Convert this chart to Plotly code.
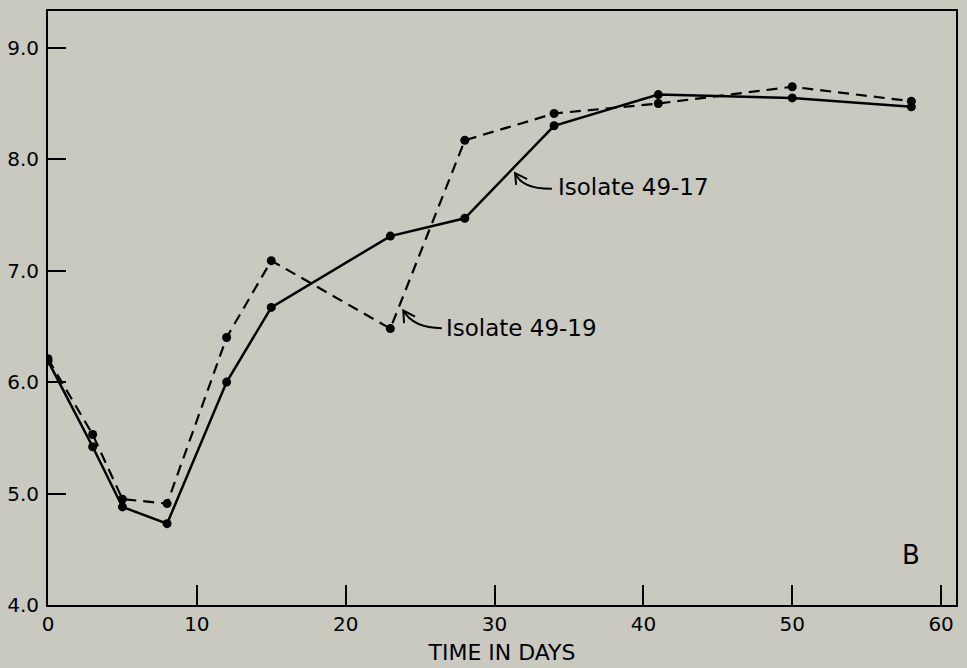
import plotly.graph_objects as go

days = [0, 3, 5, 8, 12, 15, 23, 28, 34, 41, 50, 58]
isolate_49_17 = [6.19, 5.42, 4.88, 4.73, 6.00, 6.67, 7.31, 7.47, 8.30, 8.58, 8.55, 8.47]
isolate_49_19 = [6.21, 5.53, 4.95, 4.91, 6.40, 7.09, 6.48, 8.17, 8.41, 8.50, 8.65, 8.52]

x_ticks = [0, 10, 20, 30, 40, 50, 60]
y_ticks = [4, 5, 6, 7, 8, 9]
y_tick_text = ["4.0", "5.0", "6.0", "7.0", "8.0", "9.0"]

BG = "#c9c9c0"
FONT = "DejaVu Sans"

fig = go.Figure()
fig.add_trace(go.Scatter(
    x=days, y=isolate_49_19, mode="lines+markers", name="Isolate 49-19",
    line=dict(color="black", width=2.2, dash="11px,7px"),
    marker=dict(color="black", size=9),
))
fig.add_trace(go.Scatter(
    x=days, y=isolate_49_17, mode="lines+markers", name="Isolate 49-17",
    line=dict(color="black", width=2.5),
    marker=dict(color="black", size=9),
))

line_style = dict(color="black", width=2)
# curved arrow for Isolate 49-17
fig.add_shape(type="path", xref="x", yref="y",
              path="M 33.85,7.734 Q 31.83,7.732 31.38,7.875", line=line_style)
fig.add_shape(type="path", xref="x", yref="y",
              path="M 31.45,7.770 L 31.38,7.875 L 32.19,7.821", line=line_style)
# curved arrow for Isolate 49-19
fig.add_shape(type="path", xref="x", yref="y",
              path="M 26.46,6.484 Q 24.55,6.484 23.87,6.642", line=line_style)
fig.add_shape(type="path", xref="x", yref="y",
              path="M 23.92,6.529 L 23.87,6.642 L 24.66,6.588", line=line_style)

fig.add_annotation(x=34.14, y=7.752, xref="x", yref="y", text="Isolate 49-17",
                   showarrow=False, xanchor="left", yanchor="middle",
                   font=dict(family=FONT, size=23, color="black"))
fig.add_annotation(x=26.61, y=6.487, xref="x", yref="y", text="Isolate 49-19",
                   showarrow=False, xanchor="left", yanchor="middle",
                   font=dict(family=FONT, size=23, color="black"))
fig.add_annotation(x=58.0, y=4.449, xref="x", yref="y", text="B",
                   showarrow=False, xanchor="center", yanchor="middle",
                   font=dict(family=FONT, size=26, color="black"))

fig.update_layout(
    width=967, height=668,
    margin=dict(l=48, r=11, t=11, b=63),
    paper_bgcolor=BG, plot_bgcolor=BG,
    showlegend=False,
    font=dict(family=FONT, color="black"),
)
fig.update_xaxes(
    range=[0, 61.0], tickvals=x_ticks, ticktext=[str(v) for v in x_ticks],
    ticks="inside", ticklen=20, tickwidth=2, tickcolor="black",
    showline=True, linecolor="black", linewidth=2, mirror=True,
    showgrid=False, zeroline=False, automargin=False,
    tickfont=dict(family=FONT, size=20, color="black"),
    title=dict(text="TIME IN DAYS", font=dict(family=FONT, size=22, color="black"), standoff=10),
)
fig.update_yaxes(
    range=[4, 9.33], tickvals=y_ticks, ticktext=y_tick_text,
    ticks="inside", ticklen=18, tickwidth=2, tickcolor="black",
    showline=True, linecolor="black", linewidth=2, mirror=True,
    showgrid=False, zeroline=False, ticklabelstandoff=3, automargin=False,
    tickfont=dict(family=FONT, size=20, color="black"),
)

fig.write_html("out.html")
